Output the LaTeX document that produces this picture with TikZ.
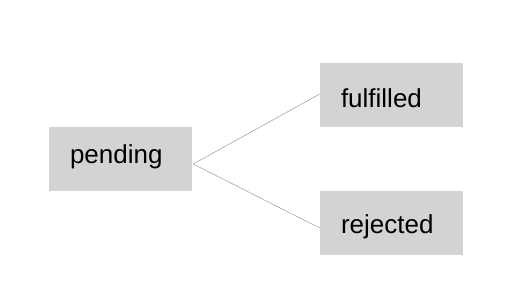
\documentclass[tikz,border=0pt]{standalone}
\usepackage{fontspec}
\setmainfont{Liberation Sans}
\usepackage{xcolor}
\usepackage{tikz}
\definecolor{statefill}{HTML}{D3D3D3}
\definecolor{edgegray}{HTML}{9A9A9A}
\tikzset{
  state/.style={fill=statefill,draw=none,rectangle,minimum width=143pt,minimum height=64pt,
    inner xsep=21pt,inner ysep=0pt,text width=101pt,align=left,
    text height=22pt,text depth=0pt,
    font=\fontsize{26}{30}\selectfont,text=black},
  edge/.style={edgegray,line width=0.5pt},
}
\begin{document}
\begin{tikzpicture}[x=1pt,y=-1pt]
    \useasboundingbox[fill=white] (0,0) rectangle (525,300);
    \node[state,text height=9pt] (pending) at (120.5,159) {pending};
    \node[state,text height=24pt] (fulfilled) at (391.5,95) {fulfilled};
    \node[state] (rejected) at (391.5,222.5) {rejected};
    \draw[edge] ([xshift=1pt,yshift=-5pt]pending.east) -- ([yshift=1pt]fulfilled.west);
    \draw[edge] ([xshift=1pt,yshift=-5pt]pending.east) -- ([yshift=-5.5pt]rejected.west);
  \end{tikzpicture}
\end{document}
